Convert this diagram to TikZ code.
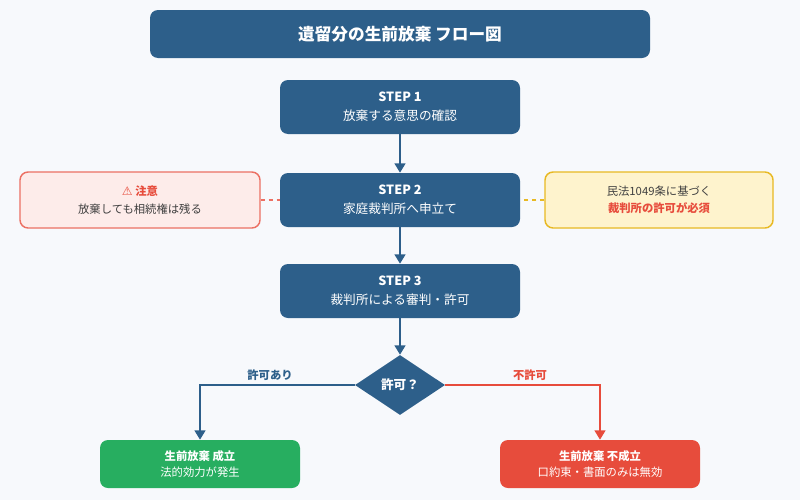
\documentclass[tikz,border=0pt]{standalone}
\usepackage{fontspec}
\setmainfont{Noto Sans CJK JP}
\newfontfamily\symfont{DejaVu Sans}
\usetikzlibrary{positioning, calc, shapes.geometric, arrows.meta}
\definecolor{navy}{HTML}{2D5F8A}
\definecolor{bgc}{HTML}{F7F9FC}
\definecolor{okgreen}{HTML}{27AE60}
\definecolor{ngred}{HTML}{E74C3C}
\definecolor{warnfill}{HTML}{FDECEA}
\definecolor{warnline}{HTML}{EC7063}
\definecolor{lawfill}{HTML}{FEF3CD}
\definecolor{lawline}{HTML}{E8B923}
\tikzset{stepbox/.style={draw=none, fill=navy, rounded corners=6pt, minimum width=180pt, minimum height=40.5pt, text=white, align=center, font=\fontsize{9.5}{14}\selectfont}}
\tikzset{note/.style={rounded corners=6pt, line width=1.1pt, minimum width=180pt, minimum height=42pt, align=center, font=\fontsize{8.5}{13}\selectfont, text=black!75}}
\tikzset{result/.style={rounded corners=6pt, minimum width=150pt, minimum height=36pt, text=white, align=center, font=\fontsize{8.5}{12}\selectfont}}
\tikzset{flow/.style={-{Triangle[length=7pt,width=8pt]}, line width=1.6pt}}
\begin{document}
\begin{tikzpicture}[x=0.75pt, y=-0.75pt]

      % BACKGROUND
      \fill[bgc] (0,0) rectangle (800,500);
      \useasboundingbox (0,0) rectangle (800,500);

      % TITLE AND STEPS
      \node[stepbox, minimum width=375pt, minimum height=36pt, font=\fontsize{12.5}{15}\selectfont\bfseries] (title) at (400,34) {遺留分の生前放棄 フロー図};
      \node[stepbox] (s1) at (400,107) {\textbf{STEP 1}\\放棄する意思の確認};
      \node[stepbox] (s2) at (400,200) {\textbf{STEP 2}\\家庭裁判所へ申立て};
      \node[stepbox] (s3) at (400,291) {\textbf{STEP 3}\\裁判所による審判・許可};
      \node[diamond, fill=navy, text=white, minimum width=67.5pt, minimum height=45pt, inner sep=0pt, font=\fontsize{9.5}{12}\selectfont\bfseries] (q) at (400,385) {許可？};

      % NOTES
      \node[note, draw=warnline, fill=warnfill] (warn) at (140,200) {{\color{ngred}\bfseries {\symfont\small ⚠} 注意}\\放棄しても相続権は残る};
      \node[note, draw=lawline, fill=lawfill, minimum width=171pt] (law) at (659,200) {民法1049条に基づく\\{\color{ngred}\bfseries 裁判所の許可が必須}};

      % RESULTS
      \node[result, fill=okgreen] (ok) at (200,464) {\textbf{生前放棄 成立}\\法的効力が発生};
      \node[result, fill=ngred] (ng) at (600,464) {\textbf{生前放棄 不成立}\\口約束・書面のみは無効};

      % ARCS
      \draw[flow, navy] (s1) -- (s2);
      \draw[flow, navy] (s2) -- (s3);
      \draw[flow, navy] (s3) -- (q);
      \draw[flow, navy] (q.west) -| (ok.north);
      \draw[flow, ngred] (q.east) -| (ng.north);
      \draw[warnline, dashed, line width=1.1pt] (warn) -- (s2);
      \draw[lawline, dashed, line width=1.1pt] (law) -- (s2);

      % LABELS
      \node[text=navy, font=\fontsize{8.5}{10}\selectfont\bfseries] (lyes) at (270,375) {許可あり};
      \node[text=ngred, font=\fontsize{8.5}{10}\selectfont\bfseries] (lno) at (530,375) {不許可};
\end{tikzpicture}
\end{document}
